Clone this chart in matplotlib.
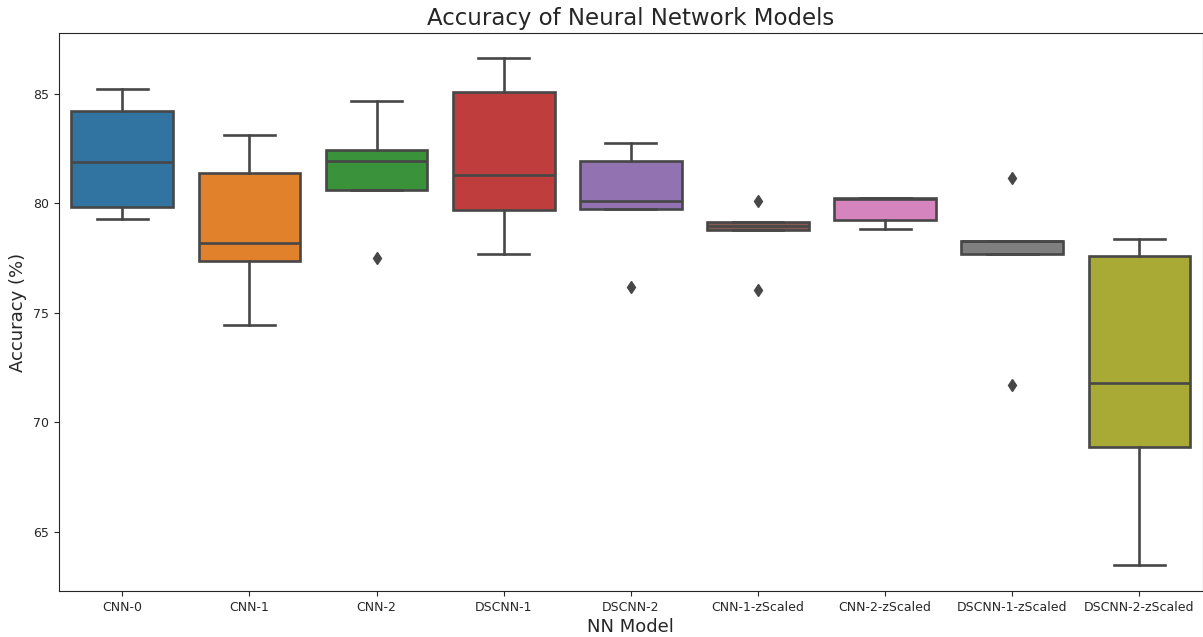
import matplotlib
matplotlib.use("Agg")
import matplotlib.pyplot as plt
import colorsys
from matplotlib.colors import to_rgb

models = ["CNN-0", "CNN-1", "CNN-2", "DSCNN-1", "DSCNN-2",
          "CNN-1-zScaled", "CNN-2-zScaled", "DSCNN-1-zScaled", "DSCNN-2-zScaled"]

cnn0 = [79.29, 79.82, 81.89, 84.22, 85.20]
cnn1 = [74.44, 77.36, 78.18, 81.39, 83.09]
cnn2 = [77.48, 80.60, 81.94, 82.44, 84.67]
dscnn1 = [77.68, 79.69, 81.28, 85.07, 86.62]
dscnn2 = [76.16, 79.72, 80.11, 81.92, 82.76]
cnn1_z = [76.04, 78.76, 78.95, 79.13, 80.08]
cnn2_z = [78.82, 79.23, 80.20, 80.22, 80.24]
dscnn1_z = [71.70, 77.69, 78.25, 78.29, 81.13]
dscnn2_z = [63.49, 68.88, 71.81, 77.60, 78.36]

data = [cnn0, cnn1, cnn2, dscnn1, dscnn2, cnn1_z, cnn2_z, dscnn1_z, dscnn2_z]

base_colors = ["#1f77b4", "#ff7f0e", "#2ca02c", "#d62728", "#9467bd",
               "#8c564b", "#e377c2", "#7f7f7f", "#bcbd22"]

def desat(c, p=0.75):
    h, l, s = colorsys.rgb_to_hls(*to_rgb(c))
    return colorsys.hls_to_rgb(h, l, s * p)

colors = [desat(c) for c in base_colors]
line_c = "#474747"
lw = 1.9

fig = plt.figure(figsize=(12.03, 6.37), dpi=100)
ax = fig.add_axes([0.0488, 0.0722, 0.9512, 0.8755])

bp = ax.boxplot(data, positions=range(len(data)), widths=0.8, patch_artist=True,
                whis=1.5,
                boxprops=dict(edgecolor=line_c, linewidth=lw),
                medianprops=dict(color=line_c, linewidth=lw),
                whiskerprops=dict(color=line_c, linewidth=lw),
                capprops=dict(color=line_c, linewidth=lw),
                flierprops=dict(marker="d", markerfacecolor=line_c, markeredgecolor=line_c,
                                markersize=6.5, linestyle="none"))
for patch, c in zip(bp["boxes"], colors):
    patch.set_facecolor(c)

ax.set_xlim(-0.5, len(data) - 0.5)
ax.set_ylim(62.3, 87.75)
ax.set_yticks([65, 70, 75, 80, 85])
ax.set_xticks(range(len(data)))
ax.set_xticklabels(models)
ax.tick_params(labelsize=9, colors="#262626", labelcolor="#262626")
for s in ax.spines.values():
    s.set_color("#262626")
ax.set_title("Accuracy of Neural Network Models", fontsize=16.5, color="#262626")
ax.set_xlabel("NN Model", fontsize=13, labelpad=3, color="#262626")
ax.set_ylabel("Accuracy (%)", fontsize=13, color="#262626")

fig.savefig("out.png", dpi=100)
